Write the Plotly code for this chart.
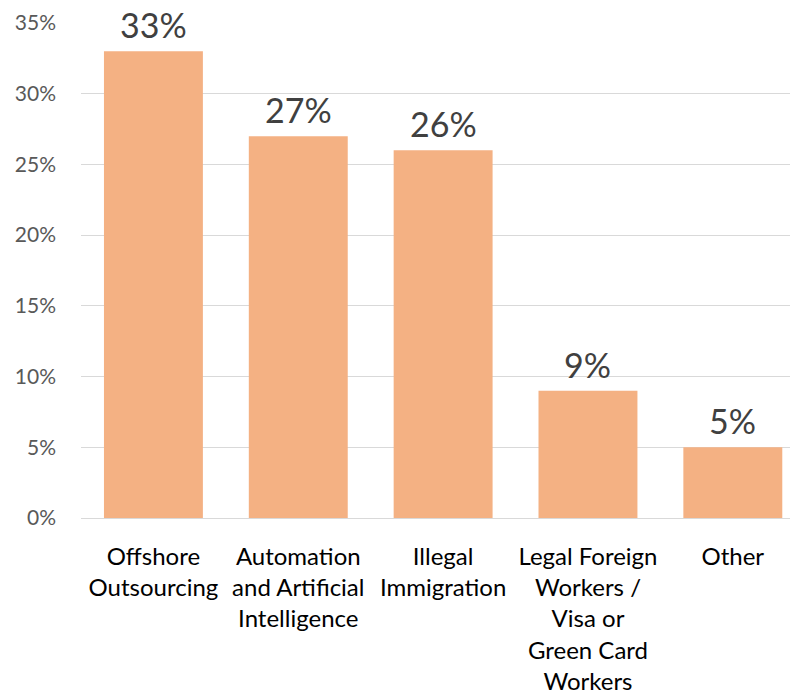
import plotly.graph_objs as go

categories = ['Offshore<br>Outsourcing',
              'Automation<br>and Artificial<br>Intelligence',
              'Illegal<br>Immigration',
              'Legal Foreign<br>Workers /<br>Visa or<br>Green Card<br>Workers',
              'Other']
values = [33, 27, 26, 9, 5]
value_labels = ['33%', '27%', '26%', '9%', '5%']
y_ticks = [0, 5, 10, 15, 20, 25, 30, 35]
y_tick_labels = ['0%', '5%', '10%', '15%', '20%', '25%', '30%', '35%']

fig = go.Figure()

fig.add_trace(go.Bar(x=list(range(len(values))), y=values,
                     marker=dict(color='#F4B183', line=dict(width=0)),
                     hoverinfo='skip'))

# value labels above the bars
for i, (v, t) in enumerate(zip(values, value_labels)):
    fig.add_annotation(x=i, y=v, text=t, showarrow=False,
                       yanchor='bottom', yshift=4,
                       font=dict(family='Lato', size=34, color='#404040'))

fig.update_xaxes(range=[-0.5, 4.45], automargin=False,
                 tickmode='array', tickvals=list(range(len(values))), ticktext=categories,
                 tickfont=dict(family='Lato', size=24, color='#000000'),
                 showgrid=False, showline=False, zeroline=False,
                 ticks='', ticklabelstandoff=22)

fig.update_yaxes(range=[0, 35], automargin=False,
                 tickmode='array', tickvals=y_ticks, ticktext=y_tick_labels,
                 tickfont=dict(family='Lato', size=21, color='#595959'),
                 showgrid=True, gridcolor='#D9D9D9', gridwidth=1,
                 zeroline=True, zerolinecolor='#D9D9D9', zerolinewidth=1,
                 showline=False, ticks='', ticklabelstandoff=24)

# page body adds an 8px margin, so the figure is sized to fill the rest
fig.update_layout(width=790, height=688,
                  margin=dict(l=73, r=0, t=15, b=178),
                  bargap=0.317, showlegend=False,
                  plot_bgcolor='white', paper_bgcolor='white')

fig.write_html("out.html")
